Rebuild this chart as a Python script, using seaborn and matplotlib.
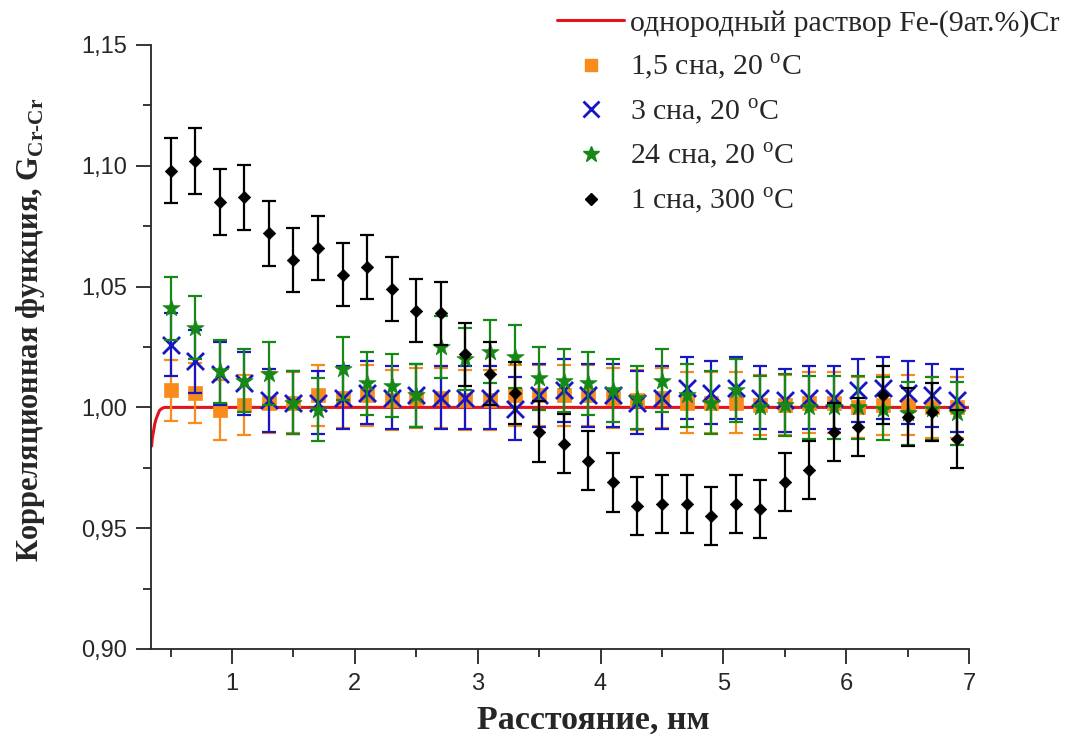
import numpy as np
import pandas as pd
import matplotlib
matplotlib.use("Agg")
import matplotlib.pyplot as plt
from matplotlib.lines import Line2D
from matplotlib.ticker import MultipleLocator, FuncFormatter
import seaborn as sns

# ---------------- data ----------------
distance = [0.5, 0.7, 0.9, 1.1, 1.3, 1.5, 1.7, 1.9, 2.1, 2.3, 2.5, 2.7, 2.9,
            3.1, 3.3, 3.5, 3.7, 3.9, 4.1, 4.3, 4.5, 4.7, 4.9, 5.1, 5.3, 5.5,
            5.7, 5.9, 6.1, 6.3, 6.5, 6.7, 6.9]

g_15h_20C = [1.007, 1.006, 0.999, 1.001, 1.002, 1.002, 1.005, 1.004, 1.005,
             1.003, 1.004, 1.004, 1.003, 1.003, 1.005, 1.005, 1.005, 1.005,
             1.004, 1.003, 1.004, 1.002, 1.002, 1.002, 1.001, 1.001, 1.002,
             1.002, 1.000, 1.001, 1.001, 1.000, 1.000]
err_15h_20C = 0.0125

g_3h_20C = [1.026, 1.019, 1.014, 1.010, 1.003, 1.002, 1.002, 1.004, 1.006,
            1.004, 1.005, 1.004, 1.004, 1.004, 0.9995, 1.005, 1.007, 1.005,
            1.005, 1.002, 1.004, 1.008, 1.006, 1.008, 1.004, 1.003, 1.004,
            1.004, 1.007, 1.008, 1.006, 1.005, 1.003]
err_3h_20C = 0.013

g_24h_20C = [1.041, 1.033, 1.015, 1.011, 1.014, 1.002, 0.999, 1.016, 1.010,
             1.009, 1.005, 1.025, 1.020, 1.023, 1.021, 1.012, 1.011, 1.010,
             1.007, 1.004, 1.011, 1.005, 1.002, 1.007, 1.000, 1.001, 1.000,
             1.000, 1.000, 0.9995, 0.9975, 0.9995, 0.9975]
err_24h_20C = 0.013

g_1h_300C = [1.098, 1.102, 1.085, 1.087, 1.072, 1.061, 1.066, 1.055, 1.058,
             1.049, 1.040, 1.039, 1.022, 1.014, 1.006, 0.990, 0.985, 0.978,
             0.969, 0.959, 0.960, 0.960, 0.955, 0.960, 0.958, 0.969, 0.974,
             0.990, 0.992, 1.005, 0.996, 0.998, 0.987]
err_1h_300C = [0.0136, 0.0136, 0.0136, 0.0135, 0.0135, 0.0133, 0.0133, 0.0132,
               0.0132, 0.0131, 0.013, 0.013, 0.013, 0.013, 0.0128, 0.0125,
               0.0123, 0.0122, 0.0121, 0.012, 0.012, 0.012, 0.0119, 0.012,
               0.012, 0.012, 0.012, 0.012, 0.012, 0.012, 0.012, 0.012, 0.012]

ref_x = [0.345, 0.35, 0.36, 0.37, 0.38, 0.395, 0.41, 0.43, 0.45, 0.50, 7.0]
ref_y = [0.984, 0.987, 0.990, 0.993, 0.995, 0.997, 0.9988, 0.9996, 1.000, 1.000, 1.000]

labels = ["однородный раствор Fe-(9ат.%)Cr",
          "1,5 сна, 20 $^{\\mathregular{o}}$C",
          "3 сна, 20 $^{\\mathregular{o}}$C",
          "24 сна, 20 $^{\\mathregular{o}}$C",
          "1 сна, 300 $^{\\mathregular{o}}$C"]

# ---------------- style ----------------
sns.set_theme(style="ticks")
plt.rcParams["font.family"] = ["Liberation Serif", "DejaVu Serif"]
plt.rcParams["mathtext.fontset"] = "custom"
plt.rcParams["mathtext.rm"] = "Liberation Serif"
plt.rcParams["mathtext.bf"] = "Liberation Serif:bold"
plt.rcParams["axes.linewidth"] = 1.3

C_RED = "#E3141C"
C_OR = "#F98B1C"
C_BL = "#1616C4"
C_GR = "#168816"
C_BK = "#000000"

fig = plt.figure(figsize=(10.71, 7.41), dpi=100)
ax = fig.add_axes([151 / 1071, 1 - 649 / 741, 818 / 1071, 604 / 741])

# reference line
sns.lineplot(x=ref_x, y=ref_y, ax=ax, color=C_RED, linewidth=2.2, zorder=2,
             estimator=None, sort=False)

series = [
    (g_15h_20C, err_15h_20C, C_OR, "s", 100, 0.0, 3),
    (g_3h_20C, err_3h_20C, C_BL, "x", 150, 2.0, 4),
    (g_24h_20C, err_24h_20C, C_GR, "*", 170, 0.0, 5),
    (g_1h_300C, err_1h_300C, C_BK, "D", 40, 0.0, 6),
]
for vals, err, col, mk, s, lw, z in series:
    ax.errorbar(distance, vals, yerr=err, fmt="none", ecolor=col,
                elinewidth=1.6, capsize=5.2, capthick=1.6, zorder=z)
    df = pd.DataFrame({"x": distance, "y": vals})
    if mk == "x":
        sns.scatterplot(data=df, x="x", y="y", ax=ax, marker=mk, s=s,
                        color=col, linewidth=lw, zorder=z + 0.5, legend=False)
    else:
        sns.scatterplot(data=df, x="x", y="y", ax=ax, marker=mk, s=s,
                        color=col, edgecolor=col, linewidth=0.5,
                        zorder=z + 0.5, legend=False)

ax.set_xlim(0.34, 7.0)
ax.set_ylim(0.90, 1.15)
sns.despine(ax=ax)
ax.xaxis.set_major_locator(MultipleLocator(1))
ax.xaxis.set_minor_locator(MultipleLocator(0.5))
ax.yaxis.set_major_locator(MultipleLocator(0.05))
ax.yaxis.set_minor_locator(MultipleLocator(0.025))
ax.yaxis.set_major_formatter(FuncFormatter(lambda v, p: f"{v:.2f}".replace(".", ",")))
ax.xaxis.set_major_formatter(FuncFormatter(lambda v, p: f"{v:.0f}"))
ax.tick_params(which="major", direction="out", length=11, width=1.3,
               labelsize=17, pad=6)
ax.tick_params(which="minor", direction="out", length=6, width=1.3)
for t in ax.get_xticklabels() + ax.get_yticklabels():
    t.set_fontfamily("Liberation Sans")

ax.set_xlabel("Расстояние, нм", fontsize=24.5, fontweight="bold")
ax.xaxis.set_label_coords((593 - 151) / 818, -56 / 604)
ax.set_ylabel("Корреляционная функция, G$_{\\mathbf{Cr}\\text{-}\\mathbf{Cr}}$",
              fontsize=22, fontweight="bold")
ax.yaxis.set_label_coords(-104 / 818, 0.528)

handles = [
    Line2D([], [], color=C_RED, lw=2.2),
    Line2D([], [], color=C_OR, marker="s", ls="none", ms=8),
    Line2D([], [], color=C_BL, marker="x", ls="none", ms=11, mew=2),
    Line2D([], [], color=C_GR, marker="*", ls="none", ms=12),
    Line2D([], [], color=C_BK, marker="D", ls="none", ms=6),
]
fig.legend(handles, labels, loc="upper left",
           bbox_to_anchor=(557 / 1071, 1 - 10 / 741), frameon=False,
           fontsize=21.5, handlelength=2.25, handletextpad=0.2,
           labelspacing=0.48, borderpad=0, borderaxespad=0)

fig.savefig("out.png", dpi=100)
